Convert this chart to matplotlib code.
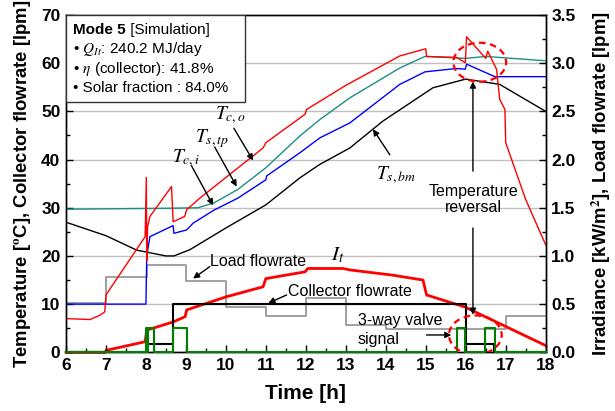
import matplotlib
matplotlib.use('Agg')
from matplotlib import pyplot as plt
from matplotlib.patches import Ellipse, Rectangle
from matplotlib.ticker import MultipleLocator

plt.rcParams['font.family'] = ['Liberation Sans', 'DejaVu Sans']
plt.rcParams['mathtext.fontset'] = 'stix'

# storage bottom temperature T_s,bm
t_bm = [6, 7, 7.77, 8.5, 8.7, 9.1, 10, 11, 11.85, 12.35, 13.1, 13.93, 15.18, 16.0, 16.85, 18]
T_bm = [27, 24.2, 21.2, 20.0, 20.0, 21.3, 25.8, 30.6, 36.2, 39, 42.4, 48, 54.9, 56.7, 55.6, 50]

# storage top temperature T_s,tp
t_tp = [6, 8.6, 9.3, 9.7, 10.3, 11, 11.85, 12.35, 13.1, 14.35, 14.98, 16.0, 16.5, 18]
T_tp = [29.7, 29.9, 30.0, 31.0, 33.8, 38.3, 44.9, 48.3, 52.8, 59.0, 61.4, 61.0, 61.4, 60.5]

# collector inlet temperature T_c,i
t_ci = [6, 8.0, 8.02, 8.1, 8.68, 8.7, 9.02, 9.18, 9.7, 10.3, 11.0, 11.02, 11.85, 12.35,
        13.1, 14.35, 14.98, 15.77, 15.99, 16.02, 16.73, 18]
T_ci = [10, 10, 20, 24, 26.3, 24.7, 25.4, 26.8, 29.5, 32, 35.8, 36.6, 41.4, 44.5,
        47.6, 55.6, 58.2, 58.9, 58.75, 59.8, 57.2, 57.2]

# collector outlet temperature T_c,o
t_co = [6, 6.6, 6.85, 6.97, 7.0, 7.98, 8.01, 8.02, 8.04, 8.1, 8.64, 8.68, 8.97, 9.02, 9.35,
        10.93, 11.0, 11.98, 12.02, 13.0, 14.35, 15.0, 15.02, 15.77, 15.99, 16.02, 16.5,
        16.55, 16.77, 16.85, 16.98, 17.0, 17.5, 18]
T_co = [7.0, 6.8, 7.7, 8.4, 11.9, 24, 36.3, 19, 26, 28.2, 34.4, 27.1, 28.2, 29.6, 32,
        42.4, 43.5, 49.4, 50.4, 55.4, 61.5, 63, 61.4, 61.2, 60.1, 65.5, 61.0,
        62.5, 58.75, 52.5, 50.4, 43.5, 31.7, 22.3]

# irradiance I_t [kW/m2]
t_it = [6, 6.99, 7.0, 7.98, 8.02, 8.68, 8.98, 9.02, 10.0, 10.93, 11.0, 11.98, 12.05,
        12.93, 13.1, 14.18, 14.93, 15.02, 15.98, 18]
I_t = [0, 0, 0.02, 0.11, 0.23, 0.315, 0.37, 0.44, 0.575, 0.68, 0.765, 0.835, 0.87,
       0.87, 0.855, 0.8, 0.75, 0.595, 0.47, 0.07]

# collector flowrate [lpm] (step)
t_cf = [6, 8.03, 8.68, 16.0, 16.7, 18]
cf = [0, 1.8, 10, 1.8, 0, 0]

# 3-way valve signal (step)
t_vs = [6, 7.99, 8.03, 8.05, 8.2, 8.68, 9.02, 15.77, 15.99, 16.48, 16.73, 18]
vs = [0, 5, 0, 5, 0, 5, 0, 5, 0, 5, 0, 0]

# load flowrate [lpm] (step)
t_lf = [6, 7, 8.02, 9, 10, 11, 12, 13, 14, 17, 18]
lf = [0.51, 0.78, 0.91, 0.74, 0.47, 0.38, 0.56, 0.28, 0.24, 0.38, 0.38]

fig = plt.figure(figsize=(6.15, 4.11), dpi=100)
ax = fig.add_axes([0.1073, 0.1428, 0.78, 0.8207])
ax2 = ax.twinx()
# temperature axis drawn on top, transparent background
ax.set_zorder(ax2.get_zorder() + 1)
ax.patch.set_visible(False)

for g in [0.5, 1.0, 1.5, 2.0, 2.5, 3.0]:
    ax2.axhline(g, color='#c0c0c0', lw=1.0, zorder=0)

ax2.plot(t_lf, lf, drawstyle='steps-post', color='#999999', lw=1.3)
ax2.plot(t_it, I_t, color='#ff0000', lw=2.0, clip_on=False)

ax.plot(t_cf, cf, drawstyle='steps-post', color='black', lw=1.5, zorder=2)
ax.plot(t_vs, vs, drawstyle='steps-post', color='#008000', lw=1.5, zorder=3, clip_on=False)
ax.plot(t_bm, T_bm, color='black', lw=1.0)
ax.plot(t_tp, T_tp, color='#1a9080', lw=1.0)
ax.plot(t_ci, T_ci, color='#0000ff', lw=1.0)
ax.plot(t_co, T_co, color='#ff0000', lw=1.0)

ax.set_xlim(6, 18)
ax.set_ylim(0, 70)
ax2.set_ylim(0, 3.5)
ax.xaxis.set_major_locator(MultipleLocator(1))
ax.xaxis.set_minor_locator(MultipleLocator(0.5))
ax.yaxis.set_major_locator(MultipleLocator(10))
ax.yaxis.set_minor_locator(MultipleLocator(5))
ax2.yaxis.set_minor_locator(MultipleLocator(0.25))
ax2.set_yticks([0, 0.5, 1.0, 1.5, 2.0, 2.5, 3.0, 3.5])
ax2.set_yticklabels(['0.0', '0.5', '1.0', '1.5', '2.0', '2.5', '3.0', '3.5'])

for a in (ax, ax2):
    a.tick_params(which='major', direction='in', length=5, width=1, labelsize=12.5, pad=4)
    a.tick_params(which='minor', direction='in', length=3, width=1)
    for lab in a.get_xticklabels() + a.get_yticklabels():
        lab.set_fontweight('bold')
    for s in a.spines.values():
        s.set_linewidth(1.0)
ax.tick_params(axis='y', right=False)

ax.set_xlabel('Time [h]', fontsize=15, fontweight='bold', labelpad=8)
ax.set_ylabel('Temperature [$^{\\mathbf{o}}$C], Collector flowrate [lpm]', fontsize=13.3,
              fontweight='bold', labelpad=6)
ax2.set_ylabel('Irradiance [kW/m$^{\\mathbf{2}}$], Load flowrate [lpm]', fontsize=13.3,
               fontweight='bold', labelpad=10)

# info box
ax.add_patch(Rectangle((0, 0.743), 0.373, 0.257, transform=ax.transAxes, fill=True,
                       facecolor='white', edgecolor='#333333', lw=1.0, zorder=5))
t1 = ax.text(0.0146, 0.955, 'Mode 5', transform=ax.transAxes, fontsize=11,
             fontweight='bold', va='center', zorder=6)
ax.annotate(' [Simulation]', xy=(1, 0.5), xycoords=t1, va='center', fontsize=11, zorder=6)
ax.text(0.0146, 0.900, '• $Q_{It}$: 240.2 MJ/day', transform=ax.transAxes, fontsize=11,
        va='center', zorder=6)
ax.text(0.0146, 0.841, '• $\\eta$ (collector): 41.8%', transform=ax.transAxes, fontsize=11,
        va='center', zorder=6)
ax.text(0.0146, 0.783, '• Solar fraction : 84.0%', transform=ax.transAxes, fontsize=11,
        va='center', zorder=6)

arr = dict(arrowstyle='-|>', color='black', lw=1.0, mutation_scale=9, shrinkA=0, shrinkB=0)
ax.annotate('', xy=(10.68, 39.8), xytext=(10.2, 46.5), arrowprops=arr)
ax.text(10.1, 48.3, '$T_{c,o}$', fontsize=14, ha='center')
ax.annotate('', xy=(10.27, 34.4), xytext=(9.72, 42.6), arrowprops=arr)
ax.text(9.65, 43.5, '$T_{s,tp}$', fontsize=14, ha='center')
ax.annotate('', xy=(9.68, 30.5), xytext=(9.14, 38.7), arrowprops=arr)
ax.text(9.0, 39.4, '$T_{c,i}$', fontsize=14, ha='center')
ax.annotate('', xy=(13.68, 46.3), xytext=(14.1, 41.0), arrowprops=arr)
ax.text(14.25, 36.0, '$T_{s,bm}$', fontsize=14, ha='center')
ax.text(12.8, 19.0, '$I_t$', fontsize=15, ha='center')

ax.text(10.8, 18.9, 'Load flowrate', fontsize=11.5, ha='center', va='center')
ax.annotate('', xy=(9.18, 15.3), xytext=(9.6, 17.8), arrowprops=arr)
ax.text(13.1, 12.6, 'Collector flowrate', fontsize=11.5, ha='center', va='center')
ax.annotate('', xy=(11.06, 10.2), xytext=(11.52, 11.9), arrowprops=arr)
ax.text(13.3, 6.7, '3-way valve', fontsize=11.5, ha='left', va='center')
ax.text(13.3, 2.6, 'signal', fontsize=11.5, ha='left', va='center')
ax.annotate('', xy=(15.64, 3.6), xytext=(15.02, 3.6), arrowprops=arr)

ax.text(16.2, 31.7, 'Temperature\nreversal', fontsize=11.5, ha='center', va='center',
        linespacing=1.1)
ax.annotate('', xy=(16.18, 56.2), xytext=(16.18, 37.6), arrowprops=arr)
ax.annotate('', xy=(16.18, 7.8), xytext=(16.18, 25.8), arrowprops=arr)

for cx, cy in [(16.35, 60.2), (16.24, 3.6)]:
    ax.add_patch(Ellipse((cx, cy), 1.32, 8.1, fill=False, edgecolor='#ff0000', lw=1.6,
                         ls=(0, (3, 2)), zorder=4))

plt.savefig('out.png', dpi=100)
